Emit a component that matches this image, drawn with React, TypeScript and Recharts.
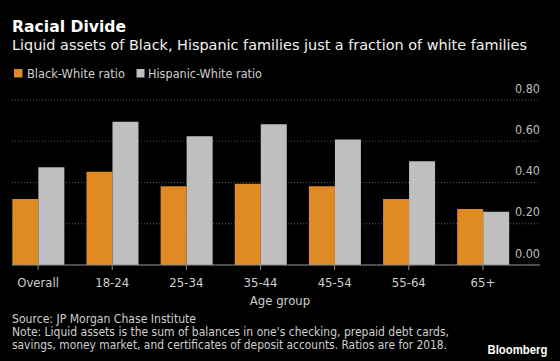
import { Bar, BarChart, CartesianGrid, XAxis, YAxis } from "recharts"

const AGE_GROUPS = ["Overall", "18-24", "25-34", "35-44", "45-54", "55-64", "65+"]
const BLACK_WHITE = [0.32, 0.452, 0.382, 0.394, 0.382, 0.32, 0.272]
const HISPANIC_WHITE = [0.474, 0.694, 0.624, 0.682, 0.609, 0.503, 0.258]
const Y_TICKS = [0, 0.2, 0.4, 0.6, 0.8]

const data = AGE_GROUPS.map((group, i) => ({
  group,
  black: BLACK_WHITE[i],
  hispanic: HISPANIC_WHITE[i],
}))

const FONT = '"DejaVu Sans Condensed", "Liberation Sans Narrow", "Liberation Sans", sans-serif'
const ORANGE = "#e08a26"
const GREY = "#bfbfbf"

function XTick(props: any) {
  return (
    <text x={props.x} y={props.y + 12} textAnchor="middle" dominantBaseline="central" fill="#cfcfcf" fontSize={13} fontFamily={FONT}>
      {props.payload.value}
    </text>
  )
}

function YTick(props: any) {
  return (
    <text x={props.x} y={props.y - 12} textAnchor="end" dominantBaseline="central" fill="#bdbdbd" fontSize={12.5} fontFamily={FONT}>
      {Number(props.payload.value).toFixed(2)}
    </text>
  )
}

export default function App() {
  return (
    <div style={{ position: "absolute", left: 0, top: 0, width: 560, height: 361, background: "#000", overflow: "hidden" }}>
      <div style={{ position: "absolute", left: 0, top: 0 }}>
        <BarChart
          width={560}
          height={361}
          data={data}
          margin={{ top: 100, right: 19, left: 12, bottom: 66 }}
          barCategoryGap="15.3%"
          barGap={0}
        >
          <CartesianGrid vertical={false} stroke="#5a5a5a" strokeDasharray="1 2" />
          <XAxis
            dataKey="group"
            height={30}
            padding={{ left: -11, right: 20 }}
            axisLine={{ stroke: "#8c8c8c" }}
            tickLine={{ stroke: "#8c8c8c" }}
            tickSize={5}
            tickMargin={0}
            tick={<XTick />}
            interval={0}
          />
          <YAxis
            orientation="right"
            width={1}
            domain={[0, 0.8]}
            ticks={Y_TICKS}
            interval={0}
            axisLine={false}
            tickLine={false}
            tickSize={0}
            tickMargin={0}
            tick={<YTick />}
          />
          <Bar dataKey="black" name="Black-White ratio" fill={ORANGE} isAnimationActive={false} />
          <Bar dataKey="hispanic" name="Hispanic-White ratio" fill={GREY} isAnimationActive={false} />
        </BarChart>
      </div>
      <svg width={560} height={361} style={{ position: "absolute", left: 0, top: 0, pointerEvents: "none" }} fontFamily={FONT}>
        <text x={12} y={32} fill="#fff" fontSize={15.5} fontWeight="bold" textLength={114} lengthAdjust="spacingAndGlyphs">
          Racial Divide
        </text>
        <text x={12} y={50} fill="#f2f2f2" fontSize={14} textLength={515} lengthAdjust="spacingAndGlyphs">
          Liquid assets of Black, Hispanic families just a fraction of white families
        </text>
        <rect x={14} y={69} width={8.5} height={8.5} fill={ORANGE} />
        <text x={27} y={78} fill="#cfcfcf" fontSize={13} textLength={98} lengthAdjust="spacingAndGlyphs">
          Black-White ratio
        </text>
        <rect x={136.5} y={69} width={8} height={8.5} fill={GREY} />
        <text x={148} y={78} fill="#cfcfcf" fontSize={13} textLength={114} lengthAdjust="spacingAndGlyphs">
          Hispanic-White ratio
        </text>
        <text x={280} y={300} textAnchor="middle" dominantBaseline="central" fill="#cfcfcf" fontSize={13}>
          Age group
        </text>
        <text x={12} y={323} fill="#cfcfcf" fontSize={12} textLength={184} lengthAdjust="spacingAndGlyphs">
          Source: JP Morgan Chase Institute
        </text>
        <text x={12} y={336} fill="#cfcfcf" fontSize={12} textLength={437} lengthAdjust="spacingAndGlyphs">
          Note: Liquid assets is the sum of balances in one's checking, prepaid debt cards,
        </text>
        <text x={12} y={349} fill="#cfcfcf" fontSize={12} textLength={435} lengthAdjust="spacingAndGlyphs">
          savings, money market, and certificates of deposit accounts. Ratios are for 2018.
        </text>
        <text x={487.5} y={354} fill="#fff" fontSize={12.5} fontWeight="bold" fontFamily='"Liberation Sans", Arial, sans-serif' textLength={60} lengthAdjust="spacingAndGlyphs">
          Bloomberg
        </text>
      </svg>
    </div>
  )
}
